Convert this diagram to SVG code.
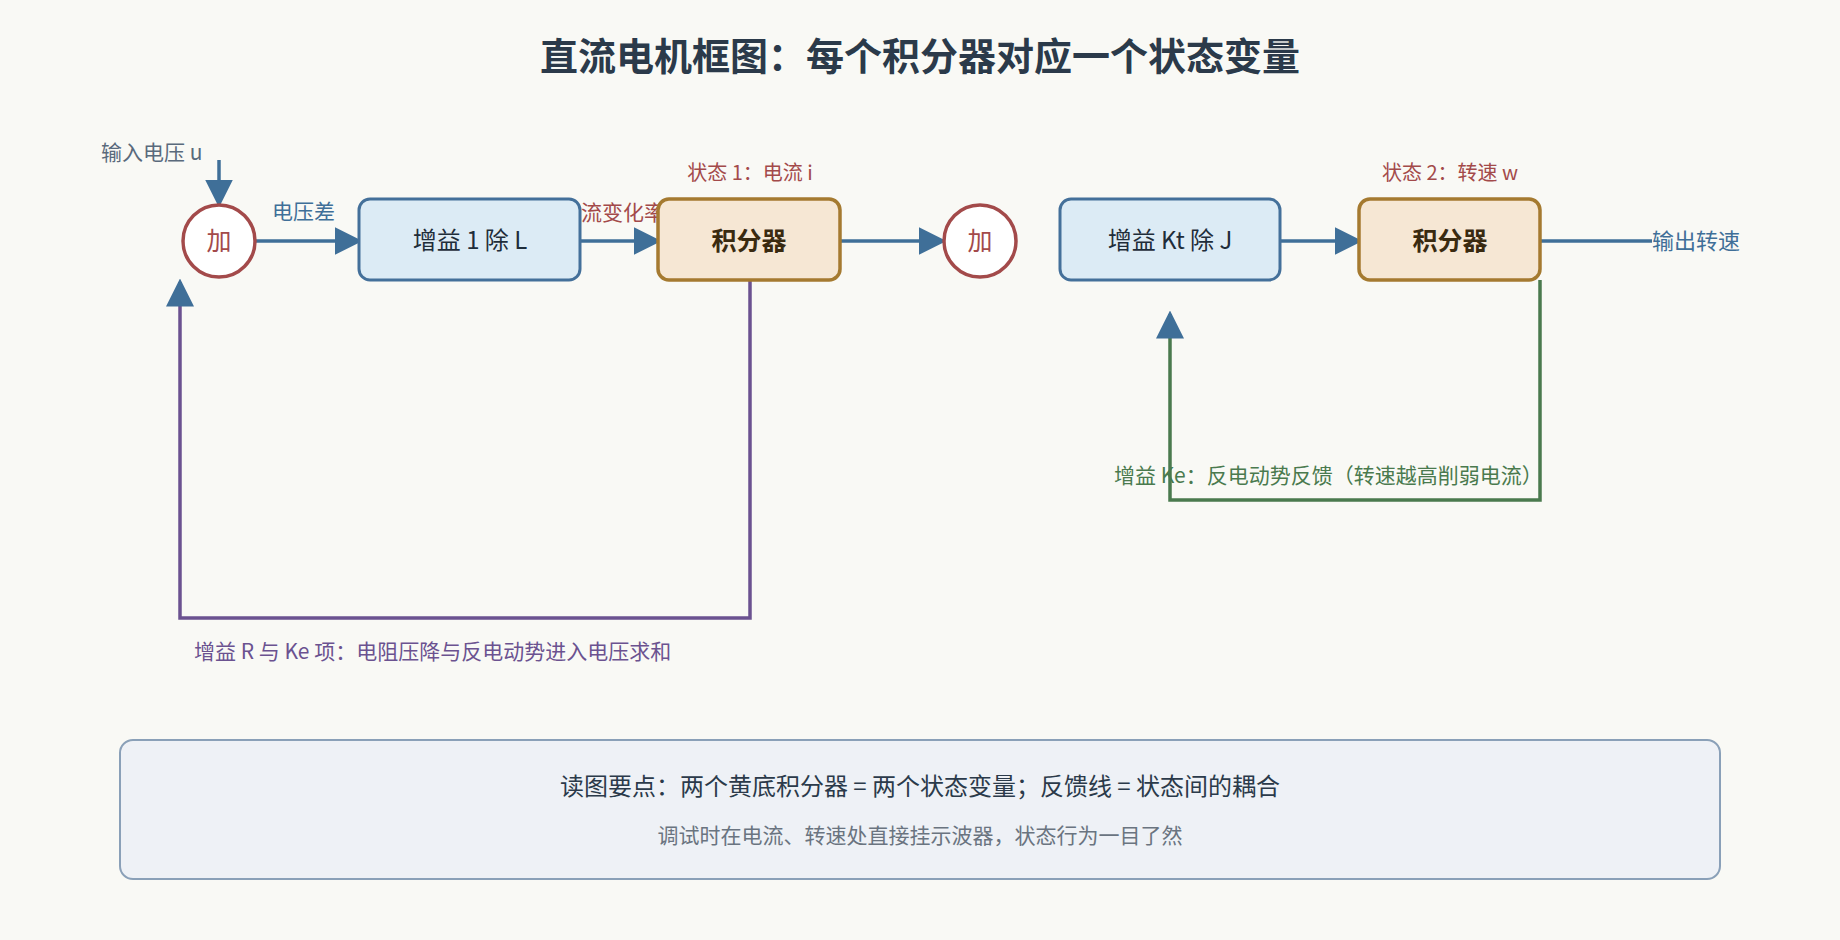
<svg xmlns="http://www.w3.org/2000/svg" width="1840" height="940" viewBox="0 0 1840 940">
<style>
text{font-family:"Noto Sans CJK SC","Noto Sans",sans-serif}
.sum{fill:#fff;stroke:#a34a4a;stroke-width:3.5}
.sumt{fill:#a34a4a;font-size:25px;text-anchor:middle}
.gain{fill:#dcebf5;stroke:#44709a;stroke-width:3}
.gt{fill:#1f2d3a;font-size:24px;text-anchor:middle}
.int{fill:#f6e7d4;stroke:#a57a30;stroke-width:3.5}
.it{fill:#3a2a10;font-size:25px;font-weight:bold;text-anchor:middle}
.bl{stroke:#3f6f98;stroke-width:3.5;fill:none}
.pu{stroke:#6b5290;stroke-width:3.5;fill:none}
.gr{stroke:#4a7a4e;stroke-width:3.5;fill:none}
</style>
<defs>
<marker id="ab" markerWidth="8" markerHeight="8" refX="7" refY="4" orient="auto" markerUnits="strokeWidth"><path d="M0,0 L8,4 L0,8 z" fill="#3f6f98"/></marker>
<marker id="ap" markerWidth="8" markerHeight="8" refX="7" refY="4" orient="auto" markerUnits="strokeWidth"><path d="M0,0 L8,4 L0,8 z" fill="#3f6f98"/></marker>
</defs>
<rect width="1840" height="940" fill="#f9f9f5"/>
<text x="920" y="70" font-size="38" font-weight="bold" fill="#2b3a4a" text-anchor="middle">直流电机框图：每个积分器对应一个状态变量</text>
<g id="connectors">
<path class="bl" d="M219,160 V204" marker-end="url(#ab)"/>
<path class="bl" d="M256,241 H359" marker-end="url(#ab)"/>
<path class="bl" d="M580,241 H658" marker-end="url(#ab)"/>
<path class="bl" d="M840,241 H943" marker-end="url(#ab)"/>
<path class="bl" d="M1280,241 H1359" marker-end="url(#ab)"/>
<path class="bl" d="M1540,241 H1652"/>
<path class="pu" d="M750,280 V618 H180 V282" marker-end="url(#ap)"/>
<path class="gr" d="M1540,280 V500 H1170 V314" marker-end="url(#ap)"/>
</g>
<text x="101" y="160" font-size="21" fill="#5a6a7c">输入电压 u</text>
<text x="272" y="219" font-size="21" fill="#3f6f98">电压差</text>
<text x="560" y="220" font-size="21" fill="#a34a4a">电流变化率</text>
<text x="750" y="180" font-size="20" fill="#a34a4a" text-anchor="middle">状态 1：电流 i</text>
<text x="1450" y="180" font-size="20" fill="#a34a4a" text-anchor="middle">状态 2：转速 w</text>
<text x="1652" y="249" font-size="22" fill="#3f6f98">输出转速</text>
<text x="194" y="659" font-size="21" fill="#6b5290">增益 R 与 Ke 项：电阻压降与反电动势进入电压求和</text>
<text x="1114" y="483" font-size="21" fill="#4a7a4e">增益 Ke：反电动势反馈（转速越高削弱电流）</text>
<g id="sum1"><ellipse class="sum" cx="219" cy="241" rx="36" ry="36"/><text class="sumt" x="219" y="250">加</text></g>
<g id="gain1"><rect class="gain" x="359" y="199" width="221" height="81" rx="11"/><text class="gt" x="470" y="249">增益 1 除 L</text></g>
<g id="int1"><rect class="int" x="658" y="199" width="182" height="81" rx="11"/><text class="it" x="749" y="250">积分器</text></g>
<g id="sum2"><ellipse class="sum" cx="980" cy="241" rx="36" ry="36"/><text class="sumt" x="980" y="250">加</text></g>
<g id="gain2"><rect class="gain" x="1060" y="199" width="220" height="81" rx="11"/><text class="gt" x="1170" y="249">增益 Kt 除 J</text></g>
<g id="int2"><rect class="int" x="1359" y="199" width="181" height="81" rx="11"/><text class="it" x="1450" y="250">积分器</text></g>
<g id="note"><rect x="120" y="740" width="1600" height="139" rx="13" fill="#eef1f6" stroke="#8aa0b8" stroke-width="2"/>
<text x="920" y="795" font-size="24" fill="#2b3a4a" text-anchor="middle">读图要点：两个黄底积分器 = 两个状态变量；反馈线 = 状态间的耦合</text>
<text x="920" y="843" font-size="21" fill="#6a7480" text-anchor="middle">调试时在电流、转速处直接挂示波器，状态行为一目了然</text></g>
</svg>
